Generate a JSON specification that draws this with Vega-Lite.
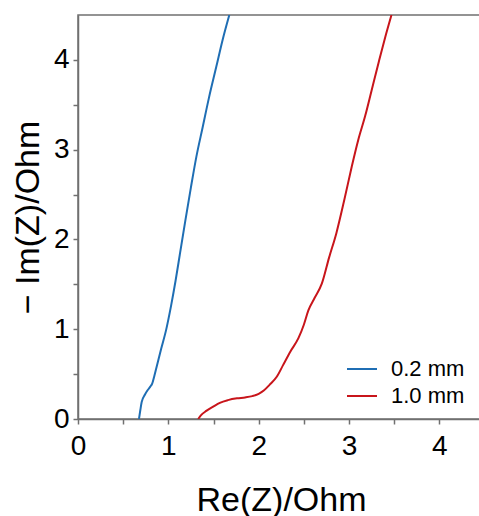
{
  "$schema": "https://vega.github.io/schema/vega-lite/v6.json",
  "width": 402,
  "height": 404,
  "autosize": {"type": "none"},
  "padding": {"left": 78, "top": 15, "right": 0, "bottom": 97},
  "config": {"view": {"stroke": "#707070", "strokeWidth": 1.5}, "font": "Liberation Sans"},
  "data": {"values": [
    {"series": "0.2 mm", "re": 0.675, "im": 0},
    {"series": "0.2 mm", "re": 0.69, "im": 0.1},
    {"series": "0.2 mm", "re": 0.705, "im": 0.19},
    {"series": "0.2 mm", "re": 0.74, "im": 0.27},
    {"series": "0.2 mm", "re": 0.77, "im": 0.32},
    {"series": "0.2 mm", "re": 0.80, "im": 0.36},
    {"series": "0.2 mm", "re": 0.82, "im": 0.39},
    {"series": "0.2 mm", "re": 0.845, "im": 0.48},
    {"series": "0.2 mm", "re": 0.87, "im": 0.58},
    {"series": "0.2 mm", "re": 0.92, "im": 0.78},
    {"series": "0.2 mm", "re": 0.975, "im": 0.99},
    {"series": "0.2 mm", "re": 1.03, "im": 1.26},
    {"series": "0.2 mm", "re": 1.08, "im": 1.54},
    {"series": "0.2 mm", "re": 1.13, "im": 1.85},
    {"series": "0.2 mm", "re": 1.19, "im": 2.22},
    {"series": "0.2 mm", "re": 1.25, "im": 2.58},
    {"series": "0.2 mm", "re": 1.31, "im": 2.92},
    {"series": "0.2 mm", "re": 1.38, "im": 3.25},
    {"series": "0.2 mm", "re": 1.45, "im": 3.58},
    {"series": "0.2 mm", "re": 1.53, "im": 3.92},
    {"series": "0.2 mm", "re": 1.6, "im": 4.22},
    {"series": "0.2 mm", "re": 1.675, "im": 4.5},
    {"series": "1.0 mm", "re": 1.33, "im": 0},
    {"series": "1.0 mm", "re": 1.36, "im": 0.04},
    {"series": "1.0 mm", "re": 1.42, "im": 0.09},
    {"series": "1.0 mm", "re": 1.5, "im": 0.14},
    {"series": "1.0 mm", "re": 1.57, "im": 0.18},
    {"series": "1.0 mm", "re": 1.66, "im": 0.21},
    {"series": "1.0 mm", "re": 1.76, "im": 0.23},
    {"series": "1.0 mm", "re": 1.85, "im": 0.24},
    {"series": "1.0 mm", "re": 1.93, "im": 0.255},
    {"series": "1.0 mm", "re": 2.0, "im": 0.28},
    {"series": "1.0 mm", "re": 2.06, "im": 0.32},
    {"series": "1.0 mm", "re": 2.12, "im": 0.38},
    {"series": "1.0 mm", "re": 2.2, "im": 0.47},
    {"series": "1.0 mm", "re": 2.27, "im": 0.6},
    {"series": "1.0 mm", "re": 2.35, "im": 0.75},
    {"series": "1.0 mm", "re": 2.44, "im": 0.9},
    {"series": "1.0 mm", "re": 2.5, "im": 1.05},
    {"series": "1.0 mm", "re": 2.55, "im": 1.21},
    {"series": "1.0 mm", "re": 2.62, "im": 1.35},
    {"series": "1.0 mm", "re": 2.7, "im": 1.51},
    {"series": "1.0 mm", "re": 2.78, "im": 1.8},
    {"series": "1.0 mm", "re": 2.86, "im": 2.07},
    {"series": "1.0 mm", "re": 2.95, "im": 2.45},
    {"series": "1.0 mm", "re": 3.03, "im": 2.81},
    {"series": "1.0 mm", "re": 3.1, "im": 3.1},
    {"series": "1.0 mm", "re": 3.18, "im": 3.38},
    {"series": "1.0 mm", "re": 3.25, "im": 3.66},
    {"series": "1.0 mm", "re": 3.33, "im": 3.98},
    {"series": "1.0 mm", "re": 3.4, "im": 4.25},
    {"series": "1.0 mm", "re": 3.47, "im": 4.5}
  ]},
  "mark": {"type": "line", "strokeWidth": 2, "interpolate": "monotone", "clip": true},
  "encoding": {
    "x": {
      "field": "re", "type": "quantitative",
      "scale": {"domain": [0, 4.45], "nice": false, "zero": false},
      "axis": {
        "title": "Re(Z)/Ohm",
        "values": [0, 0.5, 1, 1.5, 2, 2.5, 3, 3.5, 4],
        "labelExpr": "datum.value % 1 === 0 ? format(datum.value, 'd') : ''",
        "grid": false,
        "domainColor": "#707070", "domainWidth": 1.5,
        "tickColor": "#707070", "tickWidth": 1.5, "tickSize": 5,
        "labelFontSize": 28, "labelColor": "#000", "labelPadding": 8,
        "labelFlush": false, "labelOverlap": false,
        "titleFontSize": 34, "titleFontWeight": "normal", "titleColor": "#000",
        "titleX": 203, "titleY": 91, "titleBaseline": "alphabetic", "titleAlign": "center"
      }
    },
    "y": {
      "field": "im", "type": "quantitative",
      "scale": {"domain": [0, 4.5], "nice": false, "zero": false},
      "axis": {
        "title": "− Im(Z)/Ohm",
        "values": [0, 0.5, 1, 1.5, 2, 2.5, 3, 3.5, 4],
        "labelExpr": "datum.value % 1 === 0 ? format(datum.value, 'd') : ''",
        "grid": false,
        "domainColor": "#707070", "domainWidth": 1.5,
        "tickColor": "#707070", "tickWidth": 1.5, "tickSize": 5,
        "labelFontSize": 28, "labelColor": "#000", "labelPadding": 4,
        "labelFlush": false, "labelOverlap": false,
        "titleFontSize": 34, "titleFontWeight": "normal", "titleColor": "#000",
        "titleAngle": 270, "titleX": -40, "titleY": 202, "titleBaseline": "alphabetic", "titleAlign": "center"
      }
    },
    "color": {
      "field": "series", "type": "nominal",
      "scale": {"domain": ["0.2 mm", "1.0 mm"], "range": ["#1f6eb4", "#c8151b"]},
      "legend": {
        "orient": "none", "legendX": 268, "legendY": 338, "title": null,
        "symbolType": "stroke", "symbolSize": 900, "symbolStrokeWidth": 2,
        "labelFontSize": 22, "labelOffset": 13, "labelColor": "#000",
        "rowPadding": -5, "padding": 0
      }
    },
    "order": {"field": "im", "type": "quantitative"}
  }
}
